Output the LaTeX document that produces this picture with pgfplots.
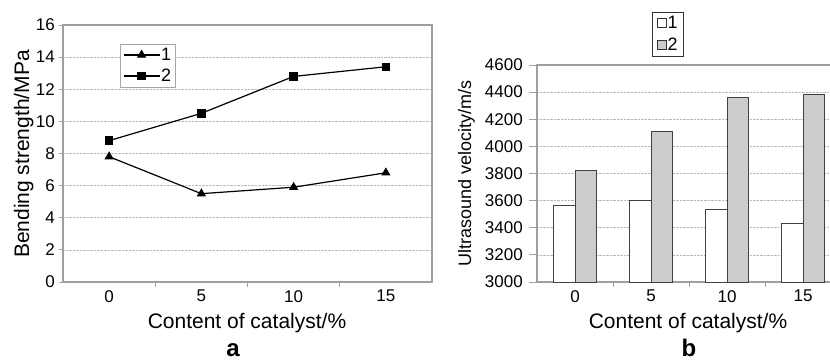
\documentclass[border=0pt]{standalone}
\usepackage{pgfplots}
\pgfplotsset{compat=1.18}
\usepackage{fontspec}
\setmainfont{Liberation Sans}
\begin{document}
\begin{tikzpicture}
\useasboundingbox (0,0) rectangle (830pt,360pt);
\pgfplotsset{
  common/.style={
    scale only axis,
    anchor=south west,
    /pgf/number format/assume math mode=true,
    /pgf/number format/1000 sep={},
    tick label style={font=\fontsize{17}{20}\selectfont},
    axis line style={gray!75, line width=1.2pt},
    tick align=outside,
    xtick pos=bottom, ytick pos=left,
    xmin=-2.5, xmax=17.5,
    xtick={0,5,10,15},
    minor xtick={2.5,7.5,12.5},
    major x tick style={draw=none},
    minor x tick style={gray!75, line width=1pt},
    minor tick length=5pt,
    y tick style={gray!75, line width=1pt},
    ymajorgrids,
    grid style={densely dotted, gray!55, line width=0.7pt},
    legend cell align=left,
  }
}
\begin{axis}[common,
  at={(63pt,78pt)}, width=369pt, height=257pt,
  ymin=0, ymax=16, ytick={0,2,...,16},
  major tick length=4pt,
  yticklabel style={anchor=east, inner sep=0pt, xshift=-4pt},
  xticklabel style={anchor=north, inner sep=0pt, yshift=-4pt},
  legend style={at={(0.1545,0.926)}, anchor=north west, draw=gray!70, line width=0.8pt,
    outer sep=0pt, font=\fontsize{18}{18}\selectfont, inner xsep=3pt, inner ysep=3pt, row sep=5pt,
    nodes={inner sep=1pt}},
  legend image code/.code={\draw[mark repeat=2,mark phase=2,#1] plot coordinates {(0pt,0pt) (18pt,0pt) (36pt,0pt)};},
]
\addplot[black, line width=1.2pt, mark=triangle*, mark size=4.2pt, mark options={solid}] coordinates {(0,7.8) (5,5.5) (10,5.9) (15,6.8)};
\addlegendentry{1}
\addplot[black, line width=1.2pt, mark=square*, mark size=3.6pt, mark options={solid}] coordinates {(0,8.8) (5,10.5) (10,12.8) (15,13.4)};
\addlegendentry{2}
\end{axis}
\begin{axis}[common,
  at={(537pt,78pt)}, width=304pt, height=217pt,
  ymin=3000, ymax=4600, ytick={3000,3200,...,4600},
  major tick length=8pt,
  yticklabel style={anchor=east, inner sep=0pt, xshift=-6pt},
  xticklabel style={anchor=north, inner sep=0pt, yshift=0pt},
  ybar=0pt, bar width=21.5pt,
  legend style={at={(0.378,1.244)}, anchor=north west, draw=black!80, line width=0.8pt,
    outer sep=0pt, font=\fontsize{18}{18}\selectfont, inner xsep=5pt, inner ysep=3pt, row sep=6pt,
    nodes={inner sep=1pt}},
  legend image code/.code={\draw[#1, draw=black!80, line width=0.6pt] (0pt,-4.5pt) rectangle (9pt,4.5pt);},
]
\addplot[draw=black!75, line width=1pt, fill=white] coordinates {(0,3565) (5,3600) (10,3535) (15,3435)};
\addlegendentry{1}
\addplot[draw=black!75, line width=1pt, fill=gray!40] coordinates {(0,3820) (5,4110) (10,4360) (15,4385)};
\addlegendentry{2}
\end{axis}
\node[anchor=base, font=\fontsize{21}{24}\selectfont] at (247pt,32pt) {Content of catalyst/\%};
\node[anchor=base, font=\fontsize{21}{24}\selectfont] at (688pt,32pt) {Content of catalyst/\%};
\node[anchor=base, rotate=90, font=\fontsize{21}{24}\selectfont] at (29pt,206pt) {Bending strength/MPa};
\node[anchor=base, rotate=90, font=\fontsize{18}{20}\selectfont] at (471pt,187pt) {Ultrasound velocity/m/s};
\node[anchor=base, inner sep=0pt, font=\bfseries\fontsize{24}{26}\selectfont] at (233pt,4pt) {a};
\node[anchor=base, inner sep=0pt, font=\bfseries\fontsize{24}{26}\selectfont] at (689pt,4pt) {b};
\end{tikzpicture}
\end{document}
